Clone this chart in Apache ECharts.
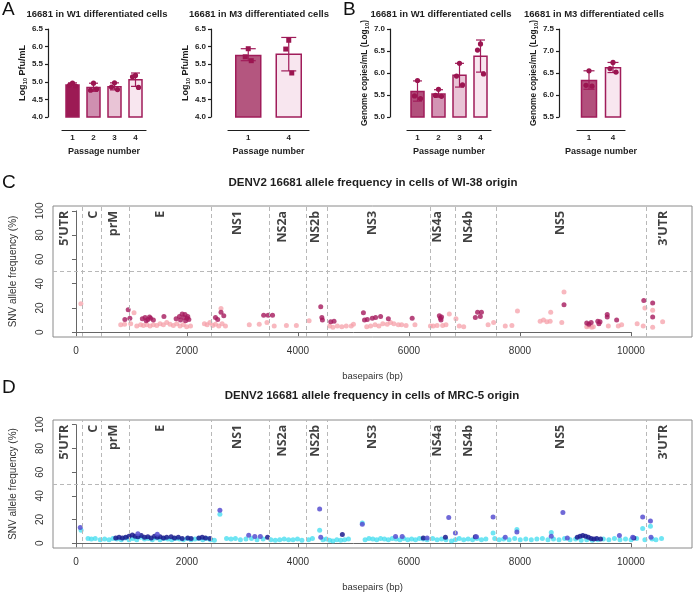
<!DOCTYPE html>
<html><head><meta charset="utf-8">
<script src="https://cdn.jsdelivr.net/npm/echarts@6/dist/echarts.min.js"></script>
<style>html,body{margin:0;padding:0;background:#fff}#c{width:696px;height:596px}</style>
</head><body><div id="c"></div>
<script>
// ================= DATA =================
// Panel A / B bar charts (Log10 values)
const passages4 = ['1', '2', '3', '4'];
const passages2 = ['1', '4'];

const aW1Mean = [4.91, 4.84, 4.86, 5.06];
const aW1Err  = [[4.86, 4.97], [4.73, 4.96], [4.77, 4.97], [4.87, 5.25]];
const aW1Pts  = [[4.96, 4.90, 4.88], [4.96, 4.76, 4.79], [4.97, 4.85, 4.78], [5.18, 5.14, 4.84]];

const aM3Mean = [5.75, 5.78];
const aM3Err  = [[5.60, 5.94], [5.31, 6.26]];
const aM3Pts  = [[5.94, 5.71, 5.60], [6.18, 5.93, 5.25]];

const bW1Mean = [5.58, 5.52, 5.95, 6.38];
const bW1Err  = [[5.36, 5.82], [5.45, 5.62], [5.68, 6.22], [6.02, 6.75]];
const bW1Pts  = [[5.83, 5.48, 5.42], [5.63, 5.49, 5.47], [6.22, 5.93, 5.73], [6.66, 6.52, 5.98]];

const bM3Mean = [6.33, 6.62];
const bM3Err  = [[6.13, 6.55], [6.51, 6.74]];
const bM3Pts  = [[6.55, 6.22, 6.20], [6.74, 6.60, 6.52]];

// Panels C / D: genome annotation
const geneBoundBp = [97, 439, 937, 2422, 3478, 4132, 4522, 6376, 6826, 7570, 10270];
const geneNames   = ['5\u2019UTR', 'C', 'prM', 'E', 'NS1', 'NS2a', 'NS2b', 'NS3', 'NS4a', 'NS4b', 'NS5', '3\u2019UTR'];
const geneLabelBp = [-234, 306, 667, 1514, 2901, 3712, 4306, 5333, 6505, 7063, 8721, 10577];
const bpTicks   = [0, 2000, 4000, 6000, 8000, 10000];
const freqTicks = [0, 20, 40, 60, 80, 100];
const freqThreshold = 50;

// Panel C (WI-38 origin): [basepair, SNV frequency %]
const wiLight = [[72,23.5],[790,6],[860,6.5],[970,7],[1030,16],[1080,5],[1150,6],[1200,5.5],[1260,6],[1320,5],[1380,6],[1440,5.5],[1500,7],[1560,6],[1620,8],[1680,6.5],[1740,5.5],[1800,7],[1860,5],[1920,6],[1980,4.5],[2050,5],[2300,7],[2350,6],[2400,8],[2450,5.5],[2500,6.5],[2560,5],[2600,19.5],[2620,7],[2680,5],[3110,6],[3290,6.5],[3430,8],[3560,5],[3780,5.5],[3960,5.5],[4190,9.5],[4560,5],[4620,4],[4700,5],[4780,4.5],[4860,5],[4950,5],[4990,6.5],[5230,4.5],[5300,5],[5380,6],[5450,5],[5520,7],[5600,6.5],[5660,8],[5720,7],[5800,6],[5860,6],[5940,5.5],[6100,6],[6380,5],[6430,5],[6500,5.5],[6600,5.5],[6660,6],[6720,15],[6840,11],[6900,5],[6980,4.5],[7420,6],[7520,8],[7730,5],[7850,5.5],[7950,17.5],[8360,9],[8420,10],[8480,8.5],[8540,9],[8550,16.5],[8750,8],[8790,33],[9200,4.5],[9240,5],[9290,4],[9320,4.5],[9590,5],[9770,5],[9830,6],[10110,7],[10220,5],[10250,20],[10390,18],[10390,4],[10570,8.5]];
const wiDark = [[865,10.5],[925,18.5],[955,11.5],[1180,11],[1230,12],[1250,9.5],[1280,10.5],[1310,12.5],[1330,11.5],[1380,10],[1570,13],[1790,11],[1850,13],[1870,10],[1900,15],[1930,12],[1950,14.5],[1960,9.5],[1990,11.5],[2000,13],[2020,10.5],[2500,12],[2540,10.5],[2600,16.5],[2650,13.5],[3370,14],[3450,14],[3530,14],[4400,21],[4420,12],[4430,10],[4580,8.5],[4640,9],[5170,16],[5190,10],[5240,10.5],[5330,11.5],[5390,12],[5480,13],[5620,11],[6050,11.5],[6540,13.5],[6560,11.5],[6570,10],[6580,12.5],[7190,12],[7230,16.5],[7280,13],[7300,16.5],[8790,22.5],[9200,7.5],[9240,6.5],[9280,8],[9400,9],[9420,7],[9440,8.5],[9570,12.5],[9570,14.5],[9740,10],[10230,26],[10390,24],[10390,12.5]];

// Panel D (MRC-5 origin)
const mrcCyan = [[75,11],[200,4],[260,3.5],[330,4],[420,3],[500,3.5],[580,3],[650,4],[720,3.5],[800,3],[870,4.5],[940,3],[1010,4],[1080,3],[1150,5],[1220,3.5],[1290,4],[1360,3],[1430,4.5],[1500,3],[1570,4],[1640,3.5],[1710,3],[1780,4],[1850,3.5],[1920,3],[1990,4],[2060,3],[2130,3.5],[2200,4],[2270,3],[2340,4],[2410,3],[2480,2.5],[2580,24.5],[2700,4],[2780,3.5],[2860,4],[2950,3],[3050,3.5],[3150,4],[3250,3],[3360,3.5],[3500,3],[3580,2.5],[3660,3],[3740,3.5],[3820,3],[3900,3],[3980,3.5],[4060,2.5],[4180,3],[4250,4],[4380,11],[4440,3],[4500,3.5],[4560,2.5],[4620,2],[4690,3],[4760,2.5],[4830,3],[4900,3.5],[5150,17],[5200,3],[5270,4],[5340,3.5],[5410,3],[5480,4],[5550,3.5],[5620,3],[5690,4],[5760,3.5],[5830,3],[5900,4],[5970,3],[6040,3.5],[6110,3],[6180,4],[6250,3.5],[6320,3],[6420,4],[6500,3],[6580,3.5],[6660,3],[6760,2],[6830,3],[6900,4],[6980,3],[7060,3.5],[7140,3],[7220,4],[7300,3],[7380,3.5],[7510,8.7],[7540,4],[7620,3],[7700,3.5],[7800,3],[7900,4],[7940,11.7],[8000,3],[8100,3.5],[8200,3],[8300,3.5],[8400,4],[8500,3],[8560,9],[8600,3.5],[8700,3],[8800,4],[8900,3],[9000,3.5],[9100,2.5],[9200,3],[9300,2.5],[9400,3],[9500,3.5],[9600,3],[9700,4],[9800,3],[9900,3.5],[10000,3],[10100,4],[10210,12.5],[10250,3],[10350,14.3],[10380,3.5],[10450,3],[10550,4]];
const mrcNavy = [[700,4.5],[760,5],[820,4.5],[880,5],[940,6],[1000,7],[1050,6],[1100,5.5],[1160,6.5],[1220,5],[1280,5.5],[1340,4.5],[1400,6],[1450,5],[1500,5.5],[1560,4.5],[1620,5],[1700,5.5],[1760,4.5],[1830,5],[1900,4],[2000,4.5],[2060,4],[2200,4.5],[2260,5],[2320,4.5],[2400,4],[3440,5],[4790,7.3],[6250,4.5],[6650,5],[7190,5.5],[9030,5],[9080,6],[9130,6.5],[9180,6],[9230,5],[9280,4],[9330,3.5],[9380,4],[9450,3.5],[10050,4.5]];
const mrcPurple = [[60,13.2],[1100,8],[1450,7.5],[2580,27.8],[3100,6.7],[3210,5.6],[3310,5.6],[4380,29],[4400,5],[5150,16],[5750,5.8],[5870,5.8],[6320,4.5],[6710,21.7],[6830,8.7],[7210,5.5],[7510,22.2],[7730,5],[7940,9.5],[8560,6],[8770,26],[8850,4.5],[9790,6.5],[10030,5],[10210,22.2],[10350,18.8],[10360,5]];

// ================= STYLE / LAYOUT =================
const F = 'Liberation Sans, Arial, sans-serif';
const INK = '#1e1e1e';
const BORDER = '#a01c5a';
const PT = '#9b1550';
const JIT = [0, -3, 3];

const grids = [], xAxes = [], yAxes = [], series = [];

function addBarPanel(o) {
  const gi = grids.length;
  grids.push({left: o.left, width: o.width, top: 29, height: 88});
  xAxes.push({gridIndex: gi, type: 'category', data: o.cats, position: 'bottom', offset: 13,
    axisLine: {lineStyle: {color: INK, width: 1.2}},
    axisTick: {alignWithLabel: true, length: 3, lineStyle: {color: INK, width: 1.2}},
    axisLabel: {fontSize: 8, fontWeight: 'bold', color: INK, margin: 4, fontFamily: F},
    name: 'Passage number', nameLocation: 'middle', nameGap: 17,
    nameTextStyle: {fontSize: 9, fontWeight: 'bold', color: INK, fontFamily: F}});
  yAxes.push({gridIndex: gi, type: 'value', min: o.yMin, max: o.yMax, interval: 0.5, offset: o.left - o.axisX,
    axisLine: {show: true, lineStyle: {color: INK, width: 1.2}},
    axisTick: {show: true, length: 3, lineStyle: {color: INK, width: 1.2}},
    axisLabel: {fontSize: 8, fontWeight: 'bold', color: INK, margin: 5, fontFamily: F, formatter: v => v.toFixed(1)},
    splitLine: {show: false},
    name: o.yName, nameLocation: 'middle', nameRotate: 90, nameGap: o.nameGap,
    nameTextStyle: {fontSize: o.nameSize, fontWeight: 'bold', color: INK, fontFamily: F,
      rich: {a: {fontSize: o.nameSize, fontWeight: 'bold', color: INK, fontFamily: F},
             s: {fontSize: 6, fontWeight: 'bold', color: INK, fontFamily: F, padding: [5, 0, 0, 0]}}}});
  const yMin = o.yMin;
  series.push({type: 'custom', xAxisIndex: gi, yAxisIndex: gi, z: 2,
    data: o.means.map((m, i) => [i, m]),
    renderItem: (p, api) => {
      const i = api.value(0);
      const t = api.coord([i, api.value(1)]), b = api.coord([i, yMin]);
      return {type: 'rect', shape: {x: t[0] - o.barW / 2, y: t[1], width: o.barW, height: b[1] - t[1]},
        style: {fill: o.fills[i], stroke: BORDER, lineWidth: 1.5}};
    }});
  series.push({type: 'custom', xAxisIndex: gi, yAxisIndex: gi, z: 3,
    data: o.errs.map((e, i) => [i, e[0], e[1]]),
    renderItem: (p, api) => {
      const i = api.value(0);
      const lo = api.coord([i, api.value(1)]), hi = api.coord([i, api.value(2)]);
      const x = lo[0], h = o.capW / 2, st = {stroke: BORDER, lineWidth: 1.2};
      return {type: 'group', children: [
        {type: 'line', shape: {x1: x, y1: lo[1], x2: x, y2: hi[1]}, style: st},
        {type: 'line', shape: {x1: x - h, y1: hi[1], x2: x + h, y2: hi[1]}, style: st},
        {type: 'line', shape: {x1: x - h, y1: lo[1], x2: x + h, y2: lo[1]}, style: st}]};
    }});
  const pd = [];
  o.pts.forEach((arr, i) => arr.forEach((v, k) => pd.push([i, v, k])));
  series.push({type: 'custom', xAxisIndex: gi, yAxisIndex: gi, z: 4, data: pd,
    renderItem: (p, api) => {
      const c = api.coord([api.value(0), api.value(1)]);
      const dx = JIT[api.value(2)] || 0;
      if (o.sym === 'rect') return {type: 'rect', shape: {x: c[0] + dx - 2.5, y: c[1] - 2.5, width: 5, height: 5}, style: {fill: PT}};
      return {type: 'circle', shape: {cx: c[0] + dx, cy: c[1], r: 2.6}, style: {fill: PT}};
    }});
}

addBarPanel({left: 62, width: 84, axisX: 48, cats: passages4, means: aW1Mean, errs: aW1Err, pts: aW1Pts,
  fills: ['#9c1a54', '#cf8fb0', '#e9c4d6', '#f8e6ef'], yMin: 4.0, yMax: 6.5, barW: 13, capW: 9, sym: 'circle',
  yName: '{a|Log}{s|10}{a| Pfu/mL}', nameGap: 17, nameSize: 9});
addBarPanel({left: 228, width: 81, axisX: 211, cats: passages2, means: aM3Mean, errs: aM3Err, pts: aM3Pts,
  fills: ['#b4567f', '#f8e6ef'], yMin: 4.0, yMax: 6.5, barW: 25, capW: 15, sym: 'rect',
  yName: '{a|Log}{s|10}{a| Pfu/mL}', nameGap: 18, nameSize: 9});
addBarPanel({left: 407, width: 84, axisX: 390, cats: passages4, means: bW1Mean, errs: bW1Err, pts: bW1Pts,
  fills: ['#b2507c', '#d394b4', '#e9c4d6', '#f8e6ef'], yMin: 5.0, yMax: 7.0, barW: 13, capW: 9, sym: 'circle',
  yName: '{a|Genome copies/mL (Log}{s|10}{a|)}', nameGap: 19, nameSize: 8.3});
addBarPanel({left: 577, width: 48, axisX: 559, cats: passages2, means: bM3Mean, errs: bM3Err, pts: bM3Pts,
  fills: ['#b2507c', '#f8e6ef'], yMin: 5.5, yMax: 7.5, barW: 15, capW: 11, sym: 'circle',
  yName: '{a|Genome copies/mL (Log}{s|10}{a|)}', nameGap: 19, nameSize: 8.3});

// ---- allele frequency panels ----
const BOX_L = 52, BOX_W = 640, X_MIN = -432, X_MAX = 11100, Y_MIN = -4, Y_MAX = 104;
const AX = '#666';

function addFreqPanel(o) {
  const gi = grids.length;
  grids.push({left: BOX_L, width: BOX_W, top: o.top, height: o.height, show: true,
    borderColor: '#8a8a8a', borderWidth: 1, backgroundColor: 'transparent'});
  xAxes.push({gridIndex: gi, type: 'value', min: X_MIN, max: X_MAX,
    axisLine: {show: false}, axisTick: {show: false}, axisLabel: {show: false}, splitLine: {show: false},
    name: 'basepairs (bp)', nameLocation: 'middle', nameGap: 34,
    nameTextStyle: {fontSize: 9.5, color: '#333', fontFamily: F}});
  yAxes.push({gridIndex: gi, type: 'value', min: Y_MIN, max: Y_MAX,
    axisLine: {show: false}, axisTick: {show: false}, axisLabel: {show: false}, splitLine: {show: false},
    name: 'SNV allele frequency (%)', nameLocation: 'middle', nameRotate: 90, nameGap: 35,
    nameTextStyle: {fontSize: 10, color: '#333', fontFamily: F}});
  // tick axes drawn over the tick range only (R style)
  const ai = gi + 1;
  const pxBp = BOX_W / (X_MAX - X_MIN), pxU = o.height / (Y_MAX - Y_MIN);
  const b0 = bpTicks[0], b1 = bpTicks[bpTicks.length - 1];
  const f0 = freqTicks[0], f1 = freqTicks[freqTicks.length - 1];
  const aL = BOX_L + (b0 - X_MIN) * pxBp, aW = (b1 - b0) * pxBp;
  const aT = o.top + (Y_MAX - f1) * pxU, aH = (f1 - f0) * pxU;
  grids.push({left: aL, width: aW, top: aT, height: aH});
  xAxes.push({gridIndex: ai, type: 'value', min: b0, max: b1, interval: bpTicks[1] - bpTicks[0],
    position: 'bottom', offset: (o.top + o.height) - (aT + aH),
    axisLine: {show: true, lineStyle: {color: AX}}, axisTick: {show: true, length: 4, lineStyle: {color: AX}},
    axisLabel: {fontSize: 10, color: '#333', margin: 9, fontFamily: F, formatter: v => String(v)},
    splitLine: {show: false}});
  yAxes.push({gridIndex: ai, type: 'value', min: f0, max: f1, interval: freqTicks[1] - freqTicks[0],
    offset: aL - BOX_L,
    axisLine: {show: true, lineStyle: {color: AX}}, axisTick: {show: true, length: 4, lineStyle: {color: AX}},
    axisLabel: {fontSize: 10, color: '#333', margin: 7, rotate: 90, fontFamily: F, formatter: v => String(v)},
    splitLine: {show: false}});

  // guide lines
  series.push({type: 'scatter', xAxisIndex: gi, yAxisIndex: gi, data: [], silent: true,
    markLine: {silent: true, symbol: 'none', label: {show: false}, animation: false,
      lineStyle: {type: [4, 3], color: '#b8b8b8', width: 1},
      data: geneBoundBp.map(b => ({xAxis: b})).concat([{yAxis: freqThreshold}])}});
  o.layers.forEach(L => series.push({type: 'scatter', xAxisIndex: gi, yAxisIndex: gi, data: L.data,
    symbolSize: 5, itemStyle: {color: L.color, opacity: L.op}, z: 3}));
  series.push({type: 'scatter', xAxisIndex: gi, yAxisIndex: gi, z: 5, silent: true,
    data: geneLabelBp.map((x, i) => ({value: [x, 100], name: geneNames[i]})),
    symbolSize: 1, itemStyle: {color: 'rgba(0,0,0,0)'},
    label: {show: true, formatter: p => p.name, position: 'inside', rotate: 90, align: 'right',
      verticalAlign: 'middle', fontSize: 12.5, fontWeight: 'bold', fontFamily: 'Open Sans', color: '#111'}});
}

addFreqPanel({top: 206, height: 131, layers: [
  {data: wiLight, color: '#f6a0aa', op: 0.75},
  {data: wiDark, color: '#a5195c', op: 0.8}]});
addFreqPanel({top: 420, height: 128, layers: [
  {data: mrcCyan, color: '#3fdcef', op: 0.75},
  {data: mrcNavy, color: '#1c1c8e', op: 0.85},
  {data: mrcPurple, color: '#574fd0', op: 0.85}]});

const letter = (t, l, tp) => ({text: t, left: l, top: tp, padding: 0,
  textStyle: {fontSize: 19, fontWeight: 'normal', color: '#111', fontFamily: F}});
const sub = (t, l) => ({text: t, left: l, top: 9, padding: 0, textAlign: 'center',
  textStyle: {fontSize: 9.5, fontWeight: 'bold', color: INK, fontFamily: F}});
const big = (t, l, tp) => ({text: t, left: l, top: tp, padding: 0, textAlign: 'center',
  textStyle: {fontSize: 11.5, fontWeight: 'bold', color: INK, fontFamily: F}});

const chart = echarts.init(document.getElementById('c'), null, {renderer: 'canvas'});
chart.setOption({
  animation: false,
  backgroundColor: '#fff',
  textStyle: {fontFamily: F},
  title: [
    letter('A', 2, 0), letter('B', 343, 0), letter('C', 2, 173), letter('D', 2, 378),
    sub('16681 in W1 differentiated cells', 97), sub('16681 in M3 differentiated cells', 259),
    sub('16681 in W1 differentiated cells', 441), sub('16681 in M3 differentiated cells', 594),
    big('DENV2 16681 allele frequency in cells of WI-38 origin', 373, 177),
    big('DENV2 16681 allele frequency in cells of MRC-5 origin', 372, 390)
  ],
  grid: grids, xAxis: xAxes, yAxis: yAxes, series: series
});
</script></body></html>
